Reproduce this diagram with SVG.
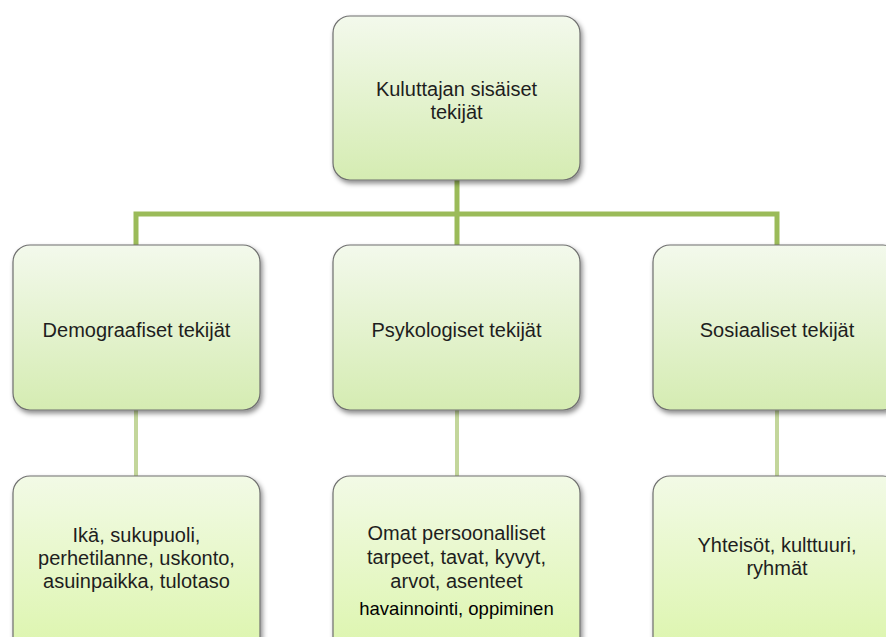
<svg xmlns="http://www.w3.org/2000/svg" width="886" height="637" viewBox="0 0 886 637">
<defs>
<linearGradient id="g1" x1="0" y1="0" x2="0" y2="1">
<stop offset="0" stop-color="#f3f9ec"/>
<stop offset="1" stop-color="#d5ecb2"/>
</linearGradient>
<linearGradient id="g2" x1="0" y1="0" x2="0" y2="1">
<stop offset="0" stop-color="#f2fae6"/>
<stop offset="1" stop-color="#dcf5ac"/>
</linearGradient>
<filter id="sh" x="-10%" y="-10%" width="125%" height="125%">
<feDropShadow dx="2" dy="3" stdDeviation="2.5" flood-color="#000" flood-opacity="0.45"/>
</filter>
</defs>
<style>
.box{stroke:#6f6f6f;stroke-width:1.2;filter:url(#sh)}
.up{fill:url(#g1)}
.low{fill:url(#g2)}
text{font-family:"Liberation Sans","Noto Sans",sans-serif;font-size:20px;fill:#1e1e1e;text-anchor:middle}
.blk{fill:#000;font-size:18.5px}
.c1{stroke:#9bbb59;stroke-width:5;fill:none}
.c2{stroke:#c3d69b;stroke-width:4;fill:none}
</style>
<rect width="886" height="637" fill="#fff"/>
<g id="connectors">
<path class="c1" d="M457 180V214M136 245V214H777V245M457 214V245"/>
<path class="c2" d="M136 410V476M457 410V476M777 410V476"/>
</g>
<g id="root">
<rect class="box up" x="333" y="16" width="247" height="164" rx="17"/>
<text x="456.5" y="96">Kuluttajan sisäiset</text>
<text x="456.5" y="119">tekijät</text>
</g>
<g id="demo">
<rect class="box up" x="13" y="245" width="247" height="165" rx="17"/>
<text x="136.5" y="337">Demograafiset tekijät</text>
</g>
<g id="psyko">
<rect class="box up" x="333" y="245" width="247" height="165" rx="17"/>
<text x="456.5" y="337">Psykologiset tekijät</text>
</g>
<g id="sos">
<rect class="box up" x="653" y="245" width="247" height="165" rx="17"/>
<text x="777" y="337">Sosiaaliset tekijät</text>
</g>
<g id="demo-items">
<rect class="box low" x="13" y="476" width="247" height="180" rx="17"/>
<text x="136.5" y="542">Ikä, sukupuoli,</text>
<text x="136.5" y="565">perhetilanne, uskonto,</text>
<text x="136.5" y="588">asuinpaikka, tulotaso</text>
</g>
<g id="psyko-items">
<rect class="box low" x="333" y="476" width="247" height="180" rx="17"/>
<text x="456.5" y="540">Omat persoonalliset</text>
<text x="456.5" y="564">tarpeet, tavat, kyvyt,</text>
<text x="456.5" y="588">arvot, asenteet</text>
<text class="blk" x="456.5" y="615">havainnointi, oppiminen</text>
</g>
<g id="sos-items">
<rect class="box low" x="653" y="476" width="247" height="180" rx="17"/>
<text x="777" y="552">Yhteisöt, kulttuuri,</text>
<text x="777" y="575">ryhmät</text>
</g>
</svg>
